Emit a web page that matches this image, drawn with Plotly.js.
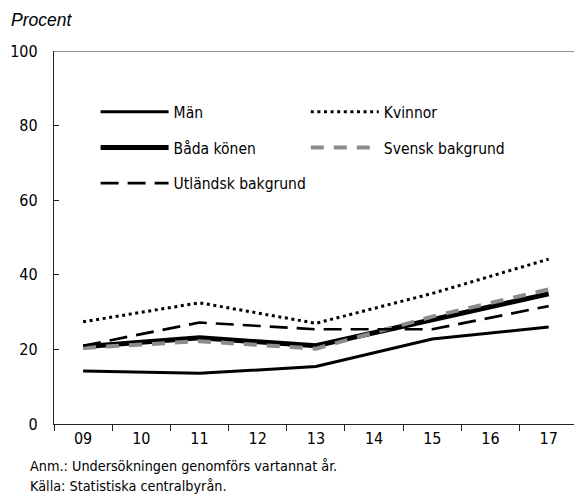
<!DOCTYPE html>
<html>
<head>
<meta charset="utf-8">
<script src="https://cdn.plot.ly/plotly-3.0.1.min.js"></script>
<style>html,body{margin:0;padding:0;background:#fff;}#chart{width:574px;height:503px;}</style>
</head>
<body>
<div id="chart"></div>
<script>
var years = ["09", "10", "11", "12", "13", "14", "15", "16", "17"];
var man = [14.2, null, 13.6, null, 15.4, null, 22.8, null, 26.0];
var kvinnor = [27.4, null, 32.5, null, 27.0, null, 35.0, null, 44.2];
var badaKonen = [20.7, null, 23.1, null, 21.0, null, 28.0, null, 34.9];
var svensk = [20.4, null, 22.2, null, 20.2, null, 28.8, null, 36.1];
var utlandsk = [21.0, null, 27.2, null, 25.4, null, 25.4, null, 31.6];
var yTicks = [0, 20, 40, 60, 80, 100];

var FONT = "'DejaVu Sans Condensed', 'Liberation Sans Narrow', 'Arial Narrow', sans-serif";

function tr(name, y, line, legend, group) {
  return {x: years, y: y, name: name, type: 'scatter', mode: 'lines',
    connectgaps: true, line: line, legend: legend, legendgroup: group, hoverinfo: 'skip'};
}

var data = [
  tr('Män', man, {color: '#000', width: 3}, 'legend', 'a'),
  tr('Kvinnor', kvinnor, {color: '#000', width: 3, dash: '3px,3.6px'}, 'legend2', 'b'),
  tr('Båda könen', badaKonen, {color: '#000', width: 5}, 'legend', 'c'),
  tr('Svensk bakgrund', svensk, {color: '#8c8c8c', width: 4, dash: '13px,10px'}, 'legend2', 'd'),
  tr('Utländsk bakgrund', utlandsk, {color: '#000', width: 2.6, dash: '18px,9px'}, 'legend', 'e')
];

var legendBase = {
  font: {family: FONT, size: 15.5, color: '#000'},
  bgcolor: 'rgba(0,0,0,0)', borderwidth: 0,
  orientation: 'v', itemwidth: 68, tracegroupgap: 12.5,
  xanchor: 'left', yanchor: 'top', traceorder: 'grouped',
  itemclick: false, itemdoubleclick: false
};

var layout = {
  width: 574, height: 503,
  margin: {l: 54, r: 0, t: 51, b: 79},
  paper_bgcolor: '#fff', plot_bgcolor: '#fff',
  font: {family: FONT, size: 16, color: '#000'},
  showlegend: true,
  legend: Object.assign({}, legendBase, {x: 0.08, y: 0.8814}),
  legend2: Object.assign({}, legendBase, {x: 0.4842, y: 0.8814}),
  xaxis: {
    type: 'category', categoryorder: 'array', categoryarray: years,
    range: [-0.5, 8.435], tickson: 'boundaries',
    ticks: 'outside', ticklen: 6, tickcolor: '#222', tickwidth: 1,
    showline: true, linecolor: '#222', linewidth: 1.2,
    showgrid: false, zeroline: false, fixedrange: true,
    tickfont: {family: FONT, size: 16, color: '#000'}
  },
  yaxis: {
    range: [0, 100], tickvals: yTicks, ticktext: yTicks.map(String),
    ticks: 'inside', ticklen: 5, tickcolor: '#222', tickwidth: 1,
    showline: true, linecolor: '#222', linewidth: 1.2,
    showgrid: false, zeroline: false, fixedrange: true,
    ticklabelstandoff: 12,
    tickfont: {family: FONT, size: 16, color: '#000'}
  },
  shapes: [
    {type: 'line', xref: 'paper', yref: 'y', x0: 0, x1: 1, y0: 100, y1: 100,
     line: {color: '#222', width: 1.2}}
  ],
  annotations: [
    {text: '<i>Procent</i>', xref: 'paper', yref: 'paper', x: -0.087, y: 1.083,
     xanchor: 'left', yanchor: 'middle', showarrow: false,
     font: {family: "'Liberation Sans', Arial, sans-serif", size: 17.5, color: '#000'}},
    {text: 'Anm.: Undersökningen genomförs vartannat år.', xref: 'paper', yref: 'paper',
     x: -0.05, y: -0.1126, xanchor: 'left', yanchor: 'middle', showarrow: false,
     font: {family: FONT, size: 14.3, color: '#000'}},
    {text: 'Källa: Statistiska centralbyrån.', xref: 'paper', yref: 'paper',
     x: -0.05, y: -0.1662, xanchor: 'left', yanchor: 'middle', showarrow: false,
     font: {family: FONT, size: 14.3, color: '#000'}}
  ]
};

Plotly.newPlot('chart', data, layout, {staticPlot: true, displayModeBar: false});
</script>
</body>
</html>
